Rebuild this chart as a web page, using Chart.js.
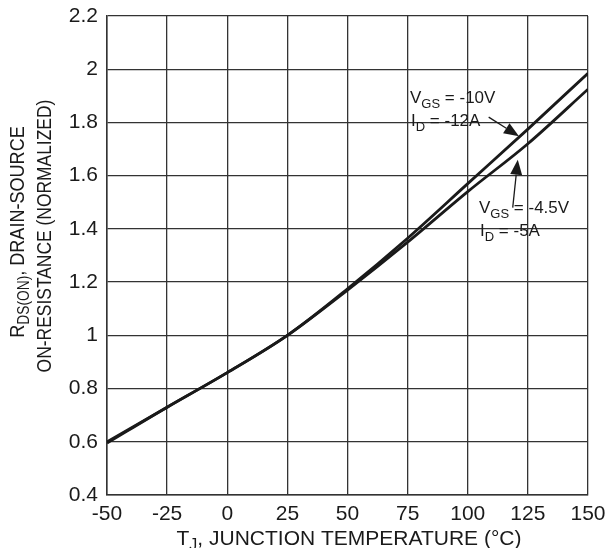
<!DOCTYPE html>
<html>
<head>
<meta charset="utf-8">
<script src="https://cdn.jsdelivr.net/npm/chart.js@4"></script>
<style>
  html, body { margin: 0; padding: 0; background: #fff; }
  #wrap { width: 606px; height: 548px; }
</style>
</head>
<body>
<div id="wrap"><canvas id="chart" width="606" height="548"></canvas></div>
<script>
// junction temperature (°C)
const temps = [-50, -25, 0, 25, 50, 75, 100, 125, 150];
// normalized RDS(on), VGS = -10V, ID = -12A
const rdsHigh = [0.60, 0.73, 0.86, 1.0, 1.175, 1.365, 1.57, 1.775, 1.985];
// normalized RDS(on), VGS = -4.5V, ID = -5A
const rdsLow = [0.595, 0.73, 0.86, 1.0, 1.17, 1.35, 1.54, 1.72, 1.925];

const xTicks = [-50, -25, 0, 25, 50, 75, 100, 125, 150];
const yTicks = [0.4, 0.6, 0.8, 1, 1.2, 1.4, 1.6, 1.8, 2, 2.2];

const FONT = '"Liberation Sans", Arial, sans-serif';
const INK = '#1a1a1a';

function toPoints(ys) {
  return temps.map((t, i) => ({ x: t, y: ys[i] }));
}

// draw a line of text made of normal and subscript parts
function drawParts(ctx, parts, x, y, size, align, subDrop) {
  const subSize = Math.round(size * 0.78);
  const drop = subDrop || 5;
  let w = 0;
  parts.forEach(p => {
    ctx.font = (p[1] ? subSize : size) + 'px ' + FONT;
    w += ctx.measureText(p[0]).width;
  });
  let cx = align === 'center' ? x - w / 2 : x;
  ctx.textAlign = 'left';
  ctx.textBaseline = 'alphabetic';
  parts.forEach(p => {
    ctx.font = (p[1] ? subSize : size) + 'px ' + FONT;
    ctx.fillText(p[0], cx, p[1] ? y + drop : y);
    cx += ctx.measureText(p[0]).width;
  });
}

function arrow(ctx, x1, y1, x2, y2) {
  const ang = Math.atan2(y2 - y1, x2 - x1);
  const len = 15, half = 6;
  const bx = x2 - len * Math.cos(ang), by = y2 - len * Math.sin(ang);
  ctx.beginPath();
  ctx.moveTo(x1, y1);
  ctx.lineTo(bx, by);
  ctx.lineWidth = 1.3;
  ctx.stroke();
  ctx.beginPath();
  ctx.moveTo(x2, y2);
  ctx.lineTo(bx + half * Math.sin(ang), by - half * Math.cos(ang));
  ctx.lineTo(bx - half * Math.sin(ang), by + half * Math.cos(ang));
  ctx.closePath();
  ctx.fill();
}

const labels = {
  id: 'labels',
  afterDraw(chart) {
    const ctx = chart.ctx;
    const xs = chart.scales.x, ys = chart.scales.y;
    ctx.save();
    ctx.fillStyle = INK;
    ctx.strokeStyle = INK;

    // axis titles
    drawParts(ctx, [['T', false], ['J', true], [', JUNCTION TEMPERATURE (°C)', false]], 349, 545, 21, 'center', 5);
    ctx.save();
    ctx.translate(24, 232);
    ctx.rotate(-Math.PI / 2);
    ctx.scale(0.86, 1);
    drawParts(ctx, [['R', false], ['DS(ON)', true], [', DRAIN-SOURCE', false]], 0, 0, 21, 'center', 5);
    ctx.restore();
    ctx.save();
    ctx.translate(51, 236);
    ctx.rotate(-Math.PI / 2);
    ctx.scale(0.83, 1);
    drawParts(ctx, [['ON-RESISTANCE (NORMALIZED)', false]], 0, 0, 21, 'center');
    ctx.restore();

    // series annotations
    drawParts(ctx, [['V', false], ['GS', true], [' = -10V', false]], 410, 103, 17, 'left');
    drawParts(ctx, [['I', false], ['D', true], [' = -12A', false]], 411, 126, 17, 'left');
    drawParts(ctx, [['V', false], ['GS', true], [' = -4.5V', false]], 479, 213, 17, 'left');
    drawParts(ctx, [['I', false], ['D', true], [' = -5A', false]], 480, 236, 17, 'left');

    arrow(ctx, xs.getPixelForValue(108.7), ys.getPixelForValue(1.82),
               xs.getPixelForValue(121.3), ys.getPixelForValue(1.748));
    arrow(ctx, xs.getPixelForValue(118.7), ys.getPixelForValue(1.48),
               xs.getPixelForValue(120.8), ys.getPixelForValue(1.66));
    ctx.restore();
  }
};

new Chart(document.getElementById('chart').getContext('2d'), {
  type: 'line',
  data: {
    datasets: [
      {
        label: 'VGS = -10V, ID = -12A',
        data: toPoints(rdsHigh),
        borderColor: INK,
        borderWidth: 2.8,
        pointRadius: 0,
        cubicInterpolationMode: 'monotone',
        fill: false
      },
      {
        label: 'VGS = -4.5V, ID = -5A',
        data: toPoints(rdsLow),
        borderColor: INK,
        borderWidth: 2.8,
        pointRadius: 0,
        cubicInterpolationMode: 'monotone',
        fill: false
      }
    ]
  },
  options: {
    responsive: false,
    animation: false,
    layout: { padding: { top: 16, right: 18, left: 0, bottom: 0 } },
    plugins: {
      legend: { display: false },
      tooltip: { enabled: false }
    },
    scales: {
      x: {
        type: 'linear',
        min: -50,
        max: 150,
        afterBuildTicks: s => { s.ticks = xTicks.map(v => ({ value: v })); },
        afterFit: s => { s.height = 53; s.paddingLeft = 0; s.paddingRight = 0; },
        ticks: {
          color: INK,
          font: { family: FONT, size: 21 },
          padding: 7,
          maxRotation: 0,
          callback: v => String(v)
        },
        grid: { color: '#333', lineWidth: 1.3, drawTicks: false },
        border: { color: '#333', width: 1.5 }
      },
      y: {
        min: 0.4,
        max: 2.2,
        afterBuildTicks: s => { s.ticks = yTicks.map(v => ({ value: v })); },
        afterFit: s => { s.width = 107; s.paddingTop = 0; s.paddingBottom = 0; },
        ticks: {
          color: INK,
          font: { family: FONT, size: 21 },
          padding: 9,
          callback: v => String(Number(v.toFixed(1)))
        },
        grid: { color: '#333', lineWidth: 1.3, drawTicks: false },
        border: { color: '#333', width: 1.5 }
      }
    }
  },
  plugins: [labels]
});
</script>
</body>
</html>
